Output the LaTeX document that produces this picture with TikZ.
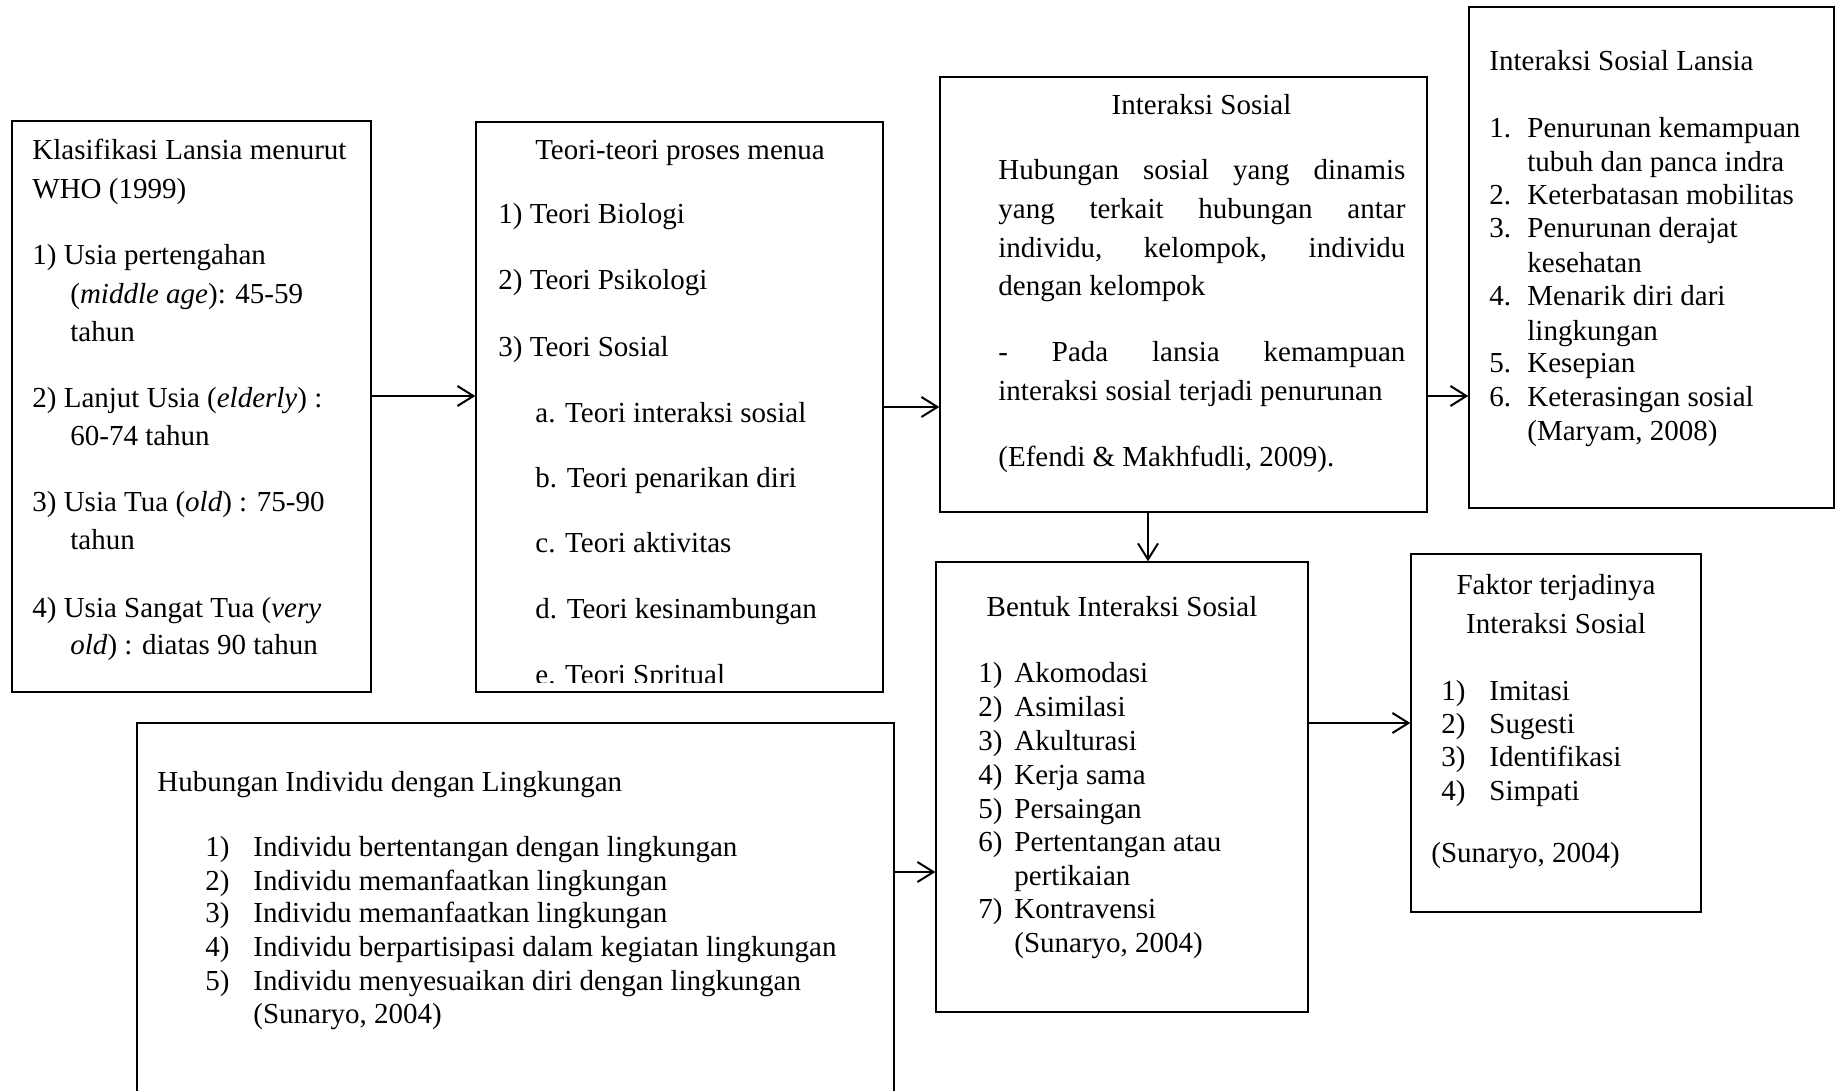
\documentclass[tikz,border=0pt]{standalone}
\usepackage{fontspec}
\setmainfont{Liberation Serif}
\usetikzlibrary{arrows.meta,fit}
\newcommand\nbox[2]{\makebox[#1][l]{#2}}
\newcommand\jline[1]{\makebox[203.5pt][s]{#1}}
\begin{document}
\begin{tikzpicture}[x=0.5pt,y=-0.5pt,
  box/.style={draw,line width=0.7pt,inner sep=0pt},
  txt/.style={inner sep=0pt,anchor=base west,font=\fontsize{14.5pt}{16.7pt}\selectfont},
  ctxt/.style={txt,anchor=base},
  arr/.style={line width=1pt,-{Straight Barb[length=8pt,width=10pt,line width=1pt]}}]
\clip (0,0) rectangle (1836,1091);
\fill[white] (0,0) rectangle (1836,1091);

% boxes
\node[box,fit={(12,121) (371,692)}] (b1) {};
\node[box,fit={(476,122) (883,692)}] (b2) {};
\node[box,fit={(940,77) (1427,512)}] (b3) {};
\node[box,fit={(1469,7) (1834,508)}] (b4) {};
\node[box,fit={(936,562) (1308,1012)}] (b5) {};
\node[box,fit={(1411,554) (1701,912)}] (b6) {};
\node[box,fit={(137,723) (894,1130)}] (b7) {};

% box 1
\foreach \xx/\yy/\ss [count=\i] in {
  32/160/{Klasifikasi Lansia menurut},
  32/199/{WHO (1999)},
  32/264/{1) Usia pertengahan},
  70/303/{(\textit{middle age}): 45-59},
  70/341/{tahun},
  32/407/{2) Lanjut Usia (\textit{elderly}) :},
  70/445/{60-74 tahun},
  32/511/{3) Usia Tua (\textit{old}) : 75-90},
  70/549/{tahun},
  32/617/{4) Usia Sangat Tua (\textit{very}},
  70/654/{\textit{old}) : diatas 90 tahun}}
  \node[txt] (b1l\i) at (\xx,\yy) {\ss};

% box 2
\node[ctxt] (b2t) at (680,160) {Teori-teori proses menua};
\foreach \xx/\yy/\ss [count=\i] in {
  498/224/{1) Teori Biologi},
  498/290/{2) Teori Psikologi},
  498/357/{3) Teori Sosial},
  535/422/{a. Teori interaksi sosial},
  535/487/{b. Teori penarikan diri},
  535/552/{c. Teori aktivitas},
  535/618/{d. Teori kesinambungan}}
  \node[txt] (b2l\i) at (\xx,\yy) {\ss};
\begin{scope}
\clip (476,122) rectangle (883,682);
\node[txt] (b2l8) at (535,684) {e. Teori Spritual};
\end{scope}

% box 3
\node[ctxt] (b3t) at (1201.5,114.5) {Interaksi Sosial};
\node[txt] (b3l1) at (998,180) {\jline{Hubungan sosial yang dinamis}};
\node[txt] (b3l2) at (998,219) {\jline{yang terkait hubungan antar}};
\node[txt] (b3l3) at (998,257) {\jline{individu, kelompok, individu}};
\node[txt] (b3l4) at (998,295.5) {dengan kelompok};
\node[txt] (b3l5) at (998,361.5) {\jline{- Pada lansia kemampuan}};
\node[txt] (b3l6) at (998,400.5) {interaksi sosial terjadi penurunan};
\node[txt] (b3l7) at (998,466.7) {(Efendi \& Makhfudli, 2009).};

% box 4
\foreach \xx/\yy/\ss [count=\i] in {
  1489/71/{Interaksi Sosial Lansia},
  1489/138/{\nbox{19pt}{1.}Penurunan kemampuan},
  1527/171.6/{tubuh dan panca indra},
  1489/204.7/{\nbox{19pt}{2.}Keterbatasan mobilitas},
  1489/237.5/{\nbox{19pt}{3.}Penurunan derajat},
  1527/272/{kesehatan},
  1489/305.5/{\nbox{19pt}{4.}Menarik diri dari},
  1527/340/{lingkungan},
  1489/372.5/{\nbox{19pt}{5.}Kesepian},
  1489/406/{\nbox{19pt}{6.}Keterasingan sosial},
  1527/440.5/{(Maryam, 2008)}}
  \node[txt] (b4l\i) at (\xx,\yy) {\ss};

% box 5
\node[ctxt] (b5t) at (1122,616.7) {Bentuk Interaksi Sosial};
\foreach \xx/\yy/\ss [count=\i] in {
  978/682.7/{\nbox{18pt}{1)}Akomodasi},
  978/716.3/{\nbox{18pt}{2)}Asimilasi},
  978/750/{\nbox{18pt}{3)}Akulturasi},
  978/784.5/{\nbox{18pt}{4)}Kerja sama},
  978/818/{\nbox{18pt}{5)}Persaingan},
  978/851.3/{\nbox{18pt}{6)}Pertentangan atau},
  1014/885/{pertikaian},
  978/918.5/{\nbox{18pt}{7)}Kontravensi},
  1014/952.8/{(Sunaryo, 2004)}}
  \node[txt] (b5l\i) at (\xx,\yy) {\ss};

% box 6
\node[ctxt] (b6t1) at (1556,594.5) {Faktor terjadinya};
\node[ctxt] (b6t2) at (1556,633) {Interaksi Sosial};
\foreach \xx/\yy/\ss [count=\i] in {
  1441/700/{\nbox{24pt}{1)}Imitasi},
  1441/733.5/{\nbox{24pt}{2)}Sugesti},
  1441/766.6/{\nbox{24pt}{3)}Identifikasi},
  1441/800.2/{\nbox{24pt}{4)}Simpati},
  1431/862.8/{(Sunaryo, 2004)}}
  \node[txt] (b6l\i) at (\xx,\yy) {\ss};

% box 7
\node[txt] (b7t) at (157,791.5) {Hubungan Individu dengan Lingkungan};
\foreach \xx/\yy/\ss [count=\i] in {
  205/856/{\nbox{24pt}{1)}Individu bertentangan dengan lingkungan},
  205/890/{\nbox{24pt}{2)}Individu memanfaatkan lingkungan},
  205/922.5/{\nbox{24pt}{3)}Individu memanfaatkan lingkungan},
  205/956.3/{\nbox{24pt}{4)}Individu berpartisipasi dalam kegiatan lingkungan},
  205/990/{\nbox{24pt}{5)}Individu menyesuaikan diri dengan lingkungan},
  253/1023.5/{(Sunaryo, 2004)}}
  \node[txt] (b7l\i) at (\xx,\yy) {\ss};

% connectors
\draw[arr] (b1.east |- 0,396) -- (b2.west |- 0,396);
\draw[arr] (b2.east |- 0,407) -- (b3.west |- 0,407);
\draw[arr] (b3.east |- 0,396) -- (b4.west |- 0,396);
\draw[arr] (b3.south -| 1148,0) -- (b5.north -| 1148,0);
\draw[arr] (b5.east |- 0,723) -- (b6.west |- 0,723);
\draw[arr] (b7.east |- 0,872) -- (b5.west |- 0,872);
\end{tikzpicture}
\end{document}
